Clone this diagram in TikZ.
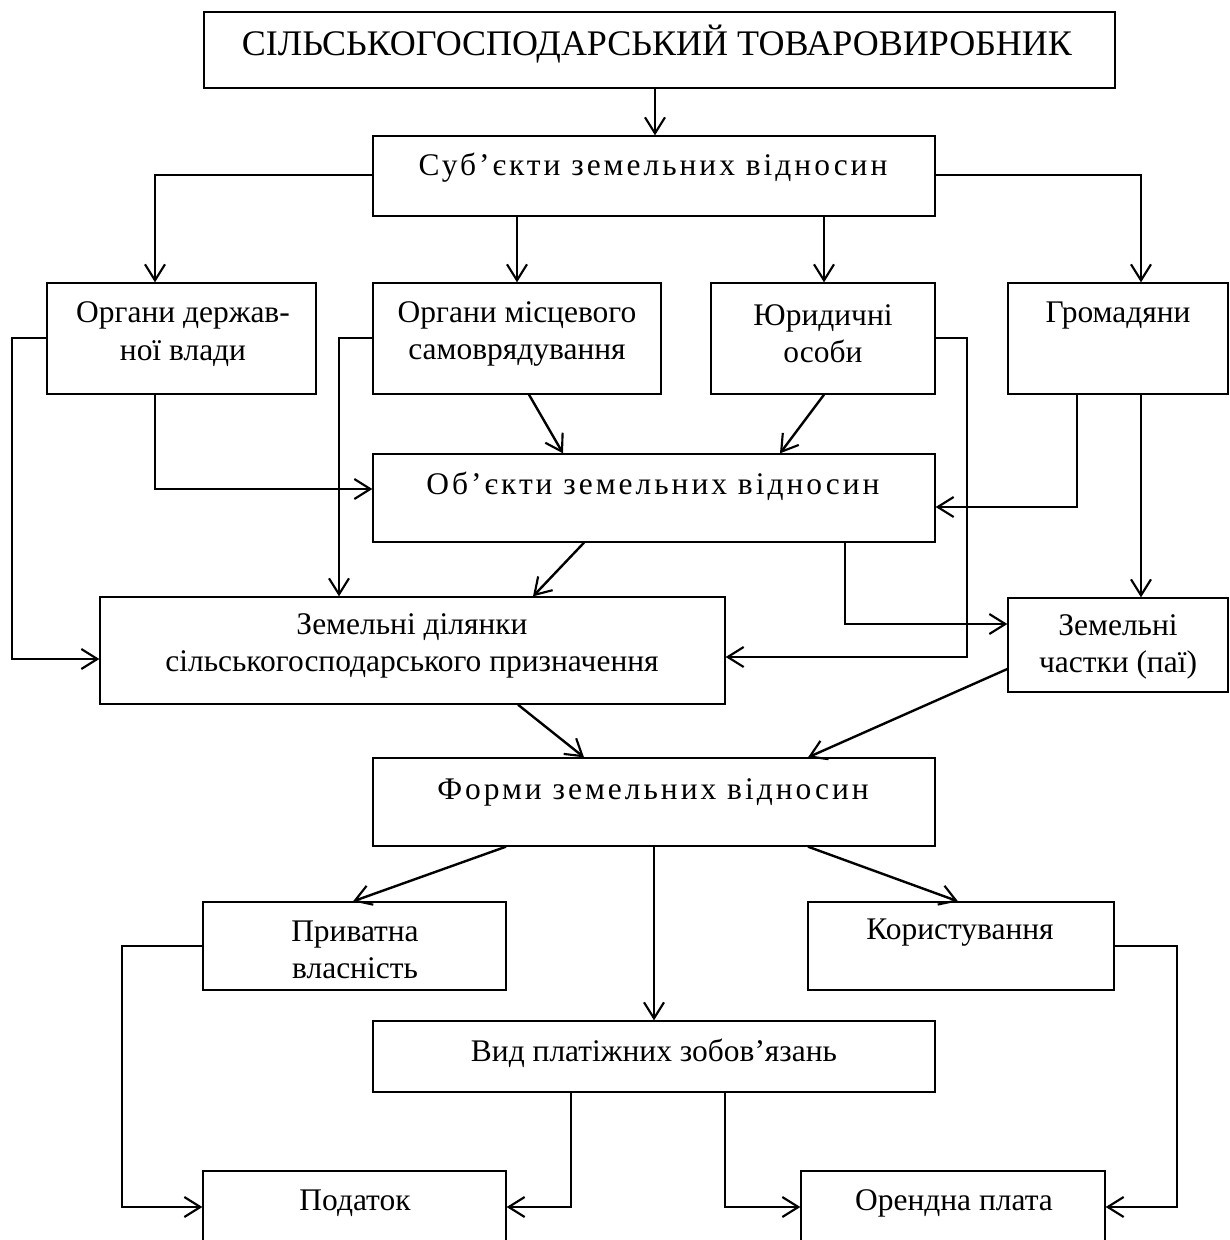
\documentclass[tikz,border=0pt]{standalone}
\usepackage{fontspec}
\setmainfont{Liberation Serif}
\usetikzlibrary{arrows.meta,fit}
\tikzset{
  box/.style={draw, line width=1pt, inner sep=0pt},
  conn/.style={line width=1.8pt, -{Straight Barb[length=12pt,width=15pt,line width=1.6pt]}},
  plain/.style={line width=1.8pt},
  txt/.style={align=center, inner sep=0pt, font=\fontsize{23.6pt}{28pt}\selectfont},
  sptxt/.style={inner sep=0pt, font=\fontsize{23.6pt}{28pt}\selectfont\addfontfeatures{LetterSpace=9.5}},
  ttl/.style={inner sep=0pt, font=\fontsize{27pt}{32pt}\selectfont}
}
\newcommand\bx[5]{%
  \coordinate (#1-a) at (#2,#3);
  \coordinate (#1-b) at (#4,#5);
  \node[box, fit=(#1-a)(#1-b)] (#1) {};}
\begin{document}
\begin{tikzpicture}[x=0.75pt,y=-0.75pt]
\useasboundingbox (0,0) rectangle (1230,1240);
% boxes
\bx{top}{204}{12}{1115}{88}
\bx{subj}{373}{136}{935}{216}
\bx{org1}{47}{283}{316}{394}
\bx{org2}{373}{283}{661}{394}
\bx{jur}{711}{283}{935}{394}
\bx{gr}{1008}{283}{1228}{394}
\bx{obj}{373}{454}{935}{542}
\bx{zd}{100}{597}{725}{704}
\bx{zch}{1008}{598}{1228}{692}
\bx{forms}{373}{758}{935}{846}
\bx{priv}{203}{902}{506}{990}
\bx{kor}{808}{902}{1114}{990}
\bx{vid}{373}{1021}{935}{1092}
\bx{pod}{203}{1171}{506}{1260}
\bx{oren}{801}{1171}{1105}{1260}
% texts
\node[ttl] (top-t) at (657,44) {СІЛЬСЬКОГОСПОДАРСЬКИЙ ТОВАРОВИРОБНИК};
\node[sptxt] (subj-t) at (653,168) {Суб’єкти земельних відносин};
\node[txt] (org1-t) at (183,334) {Органи держав-\\ної влади};
\node[txt] (org2-t) at (517,334) {Органи місцевого\\самоврядування};
\node[txt] (jur-t) at (823,334) {Юридичні\\особи};
\node[txt] (gr-t) at (1118,316) {Громадяни};
\node[sptxt] (obj-t) at (653,486) {Об’єкти земельних відносин};
\node[txt] (zd-t) at (412,646) {Земельні ділянки\\сільськогосподарського призначення};
\node[txt] (zch-t) at (1118,647) {Земельні\\частки (паї)};
\node[sptxt] (forms-t) at (653,792) {Форми земельних відносин};
\node[txt] (priv-t) at (355,950) {Приватна\\власність};
\node[txt] (kor-t) at (960,933) {Користування};
\node[txt] (vid-t) at (654,1053) {Вид платіжних зобов’язань};
\node[txt] (pod-t) at (355,1203) {Податок};
\node[txt] (oren-t) at (954,1203) {Орендна плата};
% connectors
\draw[conn] (top.south -| 655,0) -- (subj.north -| 655,0);
\draw[conn] (subj.west |- 0,175) -| (org1.north -| 155,0);
\draw[conn] (subj.south -| 517,0) -- (org2.north -| 517,0);
\draw[conn] (subj.south -| 824,0) -- (jur.north -| 824,0);
\draw[conn] (subj.east |- 0,175) -| (gr.north -| 1141,0);
\draw[conn] (org1.south -| 155,0) |- (obj.west |- 0,489);
\draw[conn] (org1.west |- 0,338) -- (12,338) |- (zd.west |- 0,659);
\draw[conn] (org2.south -| 529,0) -- (obj.north -| 563,0);
\draw[conn] (org2.west |- 0,338) -| (zd.north -| 339,0);
\draw[conn] (jur.south -| 824,0) -- (obj.north -| 780,0);
\draw[conn] (jur.east |- 0,338) -- (967,338) |- (zd.east |- 0,657);
\draw[conn] (gr.south -| 1077,0) |- (obj.east |- 0,507);
\draw[conn] (gr.south -| 1141,0) -- (zch.north -| 1141,0);
\draw[conn] (obj.south -| 584,0) -- (zd.north -| 533,0);
\draw[conn] (obj.south -| 845,0) |- (zch.west |- 0,624);
\draw[conn] (zd.south -| 518,0) -- (forms.north -| 584,0);
\draw[conn] (zch.west |- 0,669) -- (forms.north -| 808,0);
\draw[conn] (forms.south -| 506,0) -- (priv.north -| 353,0);
\draw[conn] (forms.south -| 808,0) -- (kor.north -| 958,0);
\draw[conn] (forms.south -| 654,0) -- (vid.north -| 654,0);
\draw[conn] (priv.west |- 0,946) -- (122,946) |- (pod.west |- 0,1207);
\draw[conn] (kor.east |- 0,946) -- (1177,946) |- (oren.east |- 0,1207);
\draw[conn] (vid.south -| 571,0) |- (pod.east |- 0,1207);
\draw[conn] (vid.south -| 725,0) |- (oren.west |- 0,1207);
\end{tikzpicture}
\end{document}
